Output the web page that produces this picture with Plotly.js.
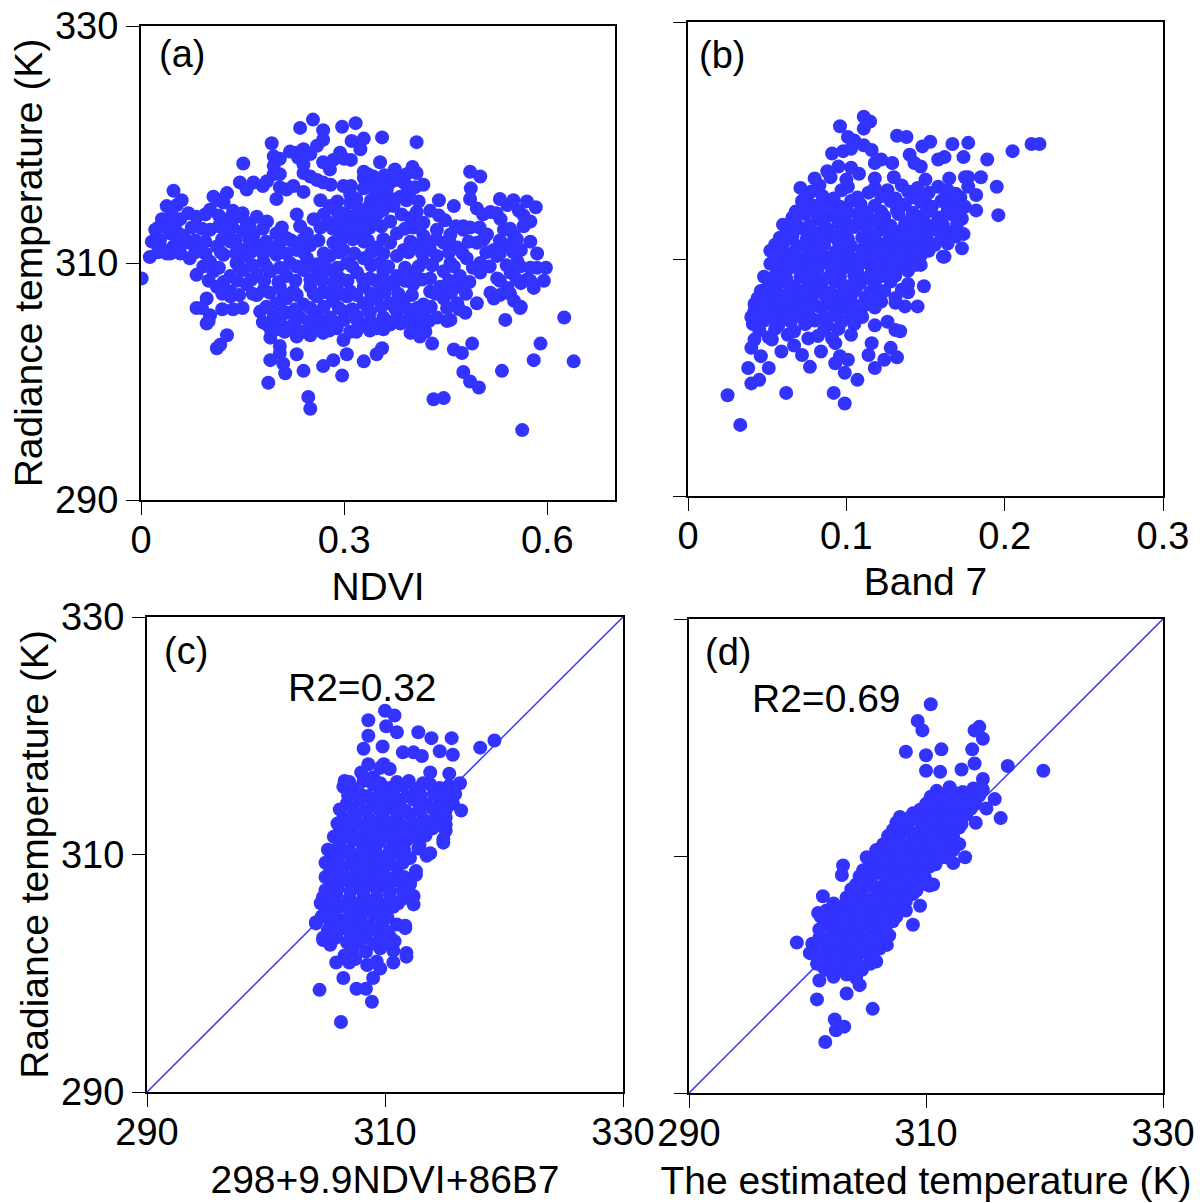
<!DOCTYPE html>
<html>
<head>
<meta charset="utf-8">
<script src="https://cdn.plot.ly/plotly-3.0.1.min.js"></script>
<style>html,body{margin:0;padding:0;background:#fff;}#chart{width:1200px;height:1203px;}</style>
</head>
<body>
<div id="chart"></div>
<script>
// ---------- Panel (a): NDVI vs radiance temperature ----------
const ndviA = [
0.254,0.235,0.269,0.297,0.317,
0.193,0.260,0.269,0.311,0.329,0.356,0.407,
0.196,0.220,0.230,0.240,0.250,0.284,0.294,0.324,
0.151,0.196,0.240,0.269,0.279,0.329,0.353,0.375,0.401,0.486,
0.146,0.166,0.186,0.196,0.250,0.260,0.269,0.329,0.343,0.368,0.378,0.388,0.417,0.501,
0.048,0.107,0.127,0.156,0.200,0.215,0.240,0.265,0.299,0.309,0.329,0.348,0.363,0.383,0.398,0.487,0.486,
0.038,0.053,0.102,0.122,0.136,0.279,0.289,0.309,0.324,0.338,0.358,0.373,0.407,0.427,0.462,0.496,0.516,0.541,0.558,0.583,
0.031,0.058,0.082,0.127,0.141,0.156,0.171,0.186,0.230,0.255,0.279,0.294,0.304,0.329,0.343,0.368,0.398,0.417,0.449,0.476,0.531,0.575,
0.021,0.043,0.063,0.102,0.127,0.151,0.166,0.200,0.215,0.245,0.289,0.304,0.324,0.338,0.378,0.402,0.417,0.437,0.457,0.476,0.486,0.511,0.536,0.551,
0.016,0.033,0.048,0.072,0.087,0.112,0.132,0.151,0.171,0.191,0.205,0.230,0.250,0.284,0.299,0.329,0.348,0.368,0.388,0.407,0.427,0.447,0.467,0.496,0.521,0.541,0.561,
0.013,0.043,0.072,0.102,0.122,0.141,0.156,0.181,0.200,0.220,0.245,0.260,0.279,0.304,0.329,0.353,0.378,0.417,0.437,0.457,0.481,0.501,0.526,0.556,0.575,0.598,
0.001,0.082,0.107,0.132,0.151,0.171,0.191,0.215,0.240,0.260,0.279,0.294,0.319,0.338,0.358,0.378,0.402,0.427,0.447,0.471,0.501,0.526,0.546,0.570,0.595,
0.112,0.132,0.156,0.181,0.205,0.225,0.250,0.269,0.289,0.309,0.329,0.353,0.373,0.402,0.427,0.442,0.471,0.516,0.541,0.561,0.580,
0.097,0.132,0.171,0.200,0.215,0.240,0.260,0.284,0.304,0.329,0.348,0.368,0.388,0.417,0.447,0.467,0.496,0.521,0.551,0.561,
0.082,0.102,0.136,0.176,0.196,0.215,0.235,0.260,0.279,0.299,0.319,0.338,0.358,0.378,0.398,0.417,0.437,0.457,0.479,0.538,0.625,
0.097,0.186,0.200,0.220,0.240,0.255,0.269,0.289,0.309,0.329,0.348,0.368,0.383,0.402,0.417,0.452,
0.127,0.191,0.205,0.230,0.250,0.299,0.398,0.412,0.430,0.590,
0.112,0.117,0.205,0.230,0.304,0.348,0.356,0.462,0.474,0.489,0.580,
0.191,0.210,0.240,0.269,0.284,0.329,0.476,0.533,0.639,
0.188,0.213,0.297,0.486,0.499,0.247,0.432,0.447,0.250,0.563,
0.033,0.045,0.055,0.026,0.058,0.038
];
const tempA = [
322.1,321.4,321.2,321.5,321.8,
320.1,319.9,320.4,320.3,320.5,320.6,320.2,
319.0,319.4,319.3,319.6,319.2,318.7,319.3,319.6,
318.4,318.2,318.3,318.5,317.9,317.7,318.5,317.9,318.1,317.7,
316.8,316.8,316.9,317.5,317.3,317.0,316.8,317.2,317.3,316.8,317.0,316.8,316.6,317.3,
316.1,315.6,315.9,316.2,315.4,316.2,316.0,315.3,316.5,315.8,316.3,315.9,316.2,315.6,316.1,316.3,315.4,
314.8,314.9,314.5,315.1,314.4,314.8,314.4,315.1,314.5,314.9,314.5,314.8,314.3,314.4,314.8,314.6,314.3,314.9,314.4,314.7,
313.7,313.7,313.9,313.7,313.9,313.4,313.9,313.5,314.1,313.7,313.4,313.9,313.2,313.7,313.9,313.5,313.8,313.4,313.6,313.1,313.7,313.5,
312.8,312.5,312.3,312.8,312.4,312.7,312.3,312.5,312.1,312.5,312.8,312.3,312.5,313.0,312.5,313.0,312.3,312.8,312.4,312.8,313.0,312.4,312.8,312.3,
311.8,311.1,311.4,311.7,311.1,311.4,311.8,311.1,311.5,311.1,311.7,311.1,311.5,311.7,311.1,311.8,311.3,311.7,311.1,311.5,311.1,311.7,311.3,311.7,311.1,311.5,311.1,
310.5,310.8,310.4,310.1,310.7,310.0,310.6,310.1,310.7,310.0,310.4,309.9,310.6,310.0,310.4,310.0,310.6,310.1,310.6,310.0,310.4,310.0,310.6,310.1,309.6,309.6,
308.7,309.0,309.3,308.9,309.4,309.0,309.3,308.9,309.4,309.0,309.4,308.7,309.2,308.7,309.3,308.9,309.2,308.7,309.3,308.9,309.2,308.7,309.2,308.6,308.5,
308.0,307.6,308.2,307.7,308.0,307.6,308.0,307.6,308.0,307.6,308.0,307.6,308.2,308.2,307.6,308.0,308.0,307.5,307.9,308.3,307.9,
307.0,307.2,307.3,306.6,307.0,306.5,307.2,306.8,307.2,306.6,307.0,306.6,306.9,306.5,307.0,306.6,306.6,307.0,306.8,306.3,
306.2,305.6,306.1,305.9,305.5,305.8,305.4,305.8,305.4,305.9,305.5,305.8,305.4,305.9,305.5,305.8,305.4,305.2,305.8,305.2,305.4,
304.9,304.8,304.4,304.6,304.2,304.6,304.1,304.5,304.2,304.8,304.5,304.8,304.9,304.6,304.8,305.1,
303.9,303.7,303.0,303.8,303.9,303.5,304.1,303.8,303.2,303.2,
302.8,303.1,302.4,302.3,302.3,302.3,302.8,302.7,302.4,303.2,301.8,
301.8,301.5,300.9,301.3,301.8,301.7,300.8,300.9,301.7,
299.9,300.7,300.5,300.0,299.5,298.7,298.5,298.6,297.7,295.9,
313.1,313.7,312.5,312.0,311.4,310.8
];
// denser core of panel (a), read between the rows above
const ndviAcore = [
0.205,0.232,0.300,0.310,
0.205,0.240,0.335,0.360,0.392,0.407,
0.180,0.205,0.225,0.280,0.310,0.340,0.355,0.393,0.405,
0.060,0.115,0.290,0.318,0.340,0.355,0.370,0.392,0.410,0.440,0.530,0.550,0.570,
0.045,0.070,0.095,0.115,0.150,0.270,0.300,0.315,0.333,0.350,0.385,0.440,0.505,0.525,0.565,
0.026,0.050,0.075,0.090,0.115,0.135,0.160,0.180,0.208,0.235,0.265,0.283,0.315,0.330,0.355,0.390,0.410,0.465,0.500,0.545,0.565,
0.028,0.055,0.080,0.095,0.120,0.140,0.160,0.185,0.222,0.240,0.262,0.294,0.313,0.335,0.358,0.398,0.418,0.436,0.455,0.484,0.506,0.530,0.555,0.575,
0.025,0.058,0.080,0.095,0.118,0.140,0.162,0.180,0.198,0.215,0.240,0.270,0.292,0.315,0.340,0.358,0.395,0.415,0.455,0.475,0.510,0.530,0.550,0.585,
0.092,0.115,0.145,0.165,0.185,0.205,0.230,0.252,0.270,0.290,0.312,0.340,0.365,0.390,0.410,0.430,0.462,0.490,0.515,0.540,0.560,0.585,
0.100,0.122,0.142,0.163,0.182,0.203,0.228,0.250,0.268,0.285,0.305,0.328,0.347,0.365,0.390,0.415,0.455,0.485,0.530,0.555,0.575,
0.120,0.145,0.165,0.190,0.210,0.230,0.255,0.275,0.295,0.318,0.340,0.360,0.380,0.400,0.435,0.458,0.480,0.530,0.545,
0.090,0.120,0.150,0.185,0.205,0.228,0.250,0.270,0.292,0.312,0.335,0.355,0.375,0.395,0.408,0.428,0.452,0.470,0.560,
0.100,0.180,0.205,0.228,0.248,0.265,0.283,0.300,0.320,0.340,0.360,0.376,0.392,0.410,0.425,
0.192,0.212,0.232,0.262,0.278,0.318,0.338,0.358,0.405,0.420
];
const tempAcore = [
318.8,318.9,318.8,318.7,
317.5,317.6,317.5,317.4,317.5,317.6,
316.5,316.4,316.5,316.6,316.5,316.4,316.6,316.5,316.4,
315.3,315.3,315.2,315.4,315.3,315.2,315.4,315.3,315.2,315.3,315.4,315.3,315.2,
314.1,314.2,314.1,314.0,314.2,314.1,314.2,314.0,314.1,314.2,314.1,314.0,314.1,314.2,314.0,
313.0,313.1,313.0,312.9,313.1,313.0,313.1,312.9,313.0,313.1,313.0,312.9,313.1,313.0,313.1,312.9,313.0,313.1,313.0,312.9,313.1,
311.9,312.0,311.9,311.8,312.0,311.9,312.0,311.8,311.9,312.0,311.9,311.8,312.0,311.9,312.0,311.8,311.9,312.0,311.9,311.8,312.0,311.9,312.0,311.8,
310.9,310.8,310.9,310.8,310.9,310.8,310.9,310.8,310.9,310.8,310.9,310.8,310.9,310.8,310.9,310.8,310.9,310.8,310.9,310.8,310.9,310.8,310.9,310.8,
309.7,309.6,309.7,309.8,309.7,309.6,309.7,309.8,309.7,309.6,309.7,309.8,309.7,309.6,309.7,309.8,309.7,309.6,309.7,309.8,309.7,309.6,
308.5,308.4,308.5,308.6,308.5,308.4,308.5,308.6,308.5,308.4,308.5,308.6,308.5,308.4,308.5,308.6,308.5,308.4,308.5,308.6,308.5,
307.4,307.3,307.4,307.5,307.4,307.3,307.4,307.5,307.4,307.3,307.4,307.5,307.4,307.3,307.4,307.5,307.4,307.3,307.4,
306.2,306.1,306.2,306.3,306.2,306.1,306.2,306.3,306.2,306.1,306.2,306.3,306.2,306.1,306.2,306.3,306.2,306.1,306.2,
305.1,305.0,305.1,305.2,305.1,305.0,305.1,305.2,305.1,305.0,305.1,305.2,305.1,305.0,305.1,
304.3,304.2,304.3,304.4,304.3,304.2,304.3,304.4,304.3,304.2
];

// ---------- Panel (b): Band 7 vs radiance temperature ----------
const band7B = [
0.111,0.115,0.111,0.096,0.101,0.105,0.111,0.116,0.091,0.098,0.103,0.088,0.095,0.103,0.108,0.118,0.122,0.129,
0.132,0.138,0.148,0.153,0.167,0.177,0.205,0.217,0.222,0.140,0.143,0.147,0.158,0.162,0.174,0.189,0.177,0.185,
0.195,0.177,0.182,0.182,0.196,0.173,0.162,0.147,0.149,0.139,0.145,0.137,0.131,0.122,0.126,0.134,0.131,0.118,
0.116,0.128,0.132,0.124,0.118,0.114,0.107,0.099,0.093,0.096,0.101,0.093,0.084,0.077,0.072,0.067,0.059,0.053,
0.042,0.040,0.051,0.046,0.038,0.040,0.045,0.025,0.033,0.062,0.092,0.099,
0.071,0.078,0.083,0.097,0.101,0.114,0.118,0.126,0.135,0.139,0.145,0.152,0.158,0.164,0.169,
0.072,0.080,0.088,0.096,0.103,0.109,0.118,0.128,0.137,0.147,0.154,0.160,0.168,0.175,
0.066,0.074,0.082,0.091,0.099,0.107,0.116,0.124,0.133,0.141,0.149,0.158,0.166,0.173,
0.063,0.072,0.080,0.088,0.097,0.105,0.114,0.122,0.131,0.139,0.147,0.156,0.164,0.174,
0.055,0.061,0.069,0.078,0.086,0.095,0.103,0.114,0.122,0.131,0.139,0.147,0.156,0.164,
0.055,0.063,0.072,0.080,0.088,0.097,0.105,0.114,0.122,0.131,0.139,0.147,0.161,
0.057,0.065,0.074,0.082,0.091,0.099,0.107,0.116,0.124,0.133,0.139,
0.051,0.059,0.067,0.076,0.084,0.093,0.101,0.109,0.118,0.128,0.139,
0.044,0.053,0.061,0.069,0.078,0.086,0.095,0.103,0.112,0.120,0.131,
0.042,0.051,0.059,0.067,0.076,0.084,0.093,0.101,0.109,0.118,
0.041,0.048,0.057,0.065,0.074,0.080,0.088,0.097,0.105,
0.051,0.063,0.076,0.082,0.091,0.103
];
const tempB = [
322.0,321.6,321.0,321.2,320.3,320.0,319.6,319.2,318.9,319.1,319.3,317.4,317.8,317.7,317.2,318.1,318.4,318.1,
320.4,320.3,319.5,319.9,319.7,319.8,319.1,319.7,319.7,318.8,318.1,317.8,318.4,318.6,318.6,318.4,316.9,316.9,
316.1,316.1,315.4,314.1,313.7,310.9,310.2,309.5,307.7,307.2,306.0,306.0,306.3,306.4,304.7,303.9,304.0,304.4,
302.9,302.5,301.7,301.5,300.8,301.9,299.8,300.4,301.2,301.8,301.5,302.9,302.2,300.9,301.9,302.7,302.2,303.2,
303.2,302.5,300.8,301.8,300.8,299.5,299.8,298.5,296.0,298.7,298.7,297.8,
316.0,315.7,316.2,315.8,316.1,315.6,316.0,315.8,316.2,315.7,316.0,315.6,316.1,315.8,315.5,
314.9,314.5,314.8,314.4,314.9,314.6,314.5,314.9,314.6,314.8,314.4,314.9,314.6,314.4,
313.5,313.8,313.4,313.7,313.5,313.8,313.3,313.6,313.8,313.4,313.7,313.5,313.8,313.4,
312.3,312.6,312.2,312.5,312.3,312.7,312.2,312.5,312.3,312.6,312.2,312.5,312.3,312.1,
311.2,311.5,311.1,311.4,311.2,311.5,311.1,311.4,311.2,311.5,311.1,311.4,311.2,311.3,
310.1,310.4,310.0,310.3,310.1,310.4,310.0,310.3,310.1,310.4,310.0,310.3,310.2,
309.0,309.3,308.9,309.2,309.0,309.3,308.9,309.2,309.0,309.3,309.0,
307.8,308.1,307.7,308.0,307.8,308.1,307.7,308.0,307.8,308.1,307.9,
306.7,307.0,306.6,306.9,306.7,307.0,306.6,306.9,306.7,307.0,306.7,
305.6,305.9,305.5,305.8,305.6,305.9,305.5,305.8,305.6,305.9,
304.5,304.8,304.4,304.7,304.5,304.8,304.4,304.7,304.5,
303.4,303.6,303.3,303.5,303.3,303.6
];
const band7Bcore = [
0.080,0.090,0.100,0.118,0.130,0.150,0.165,0.175,
0.075,0.085,0.092,0.107,0.122,0.131,0.142,0.150,0.162,0.172,
0.068,0.076,0.084,0.092,0.100,0.113,0.122,0.132,0.142,0.151,0.164,0.171,
0.060,0.068,0.077,0.086,0.095,0.103,0.111,0.120,0.128,0.137,0.145,0.152,0.161,0.170,
0.058,0.066,0.075,0.084,0.092,0.101,0.110,0.118,0.127,0.135,0.143,0.151,0.160,0.169,
0.052,0.059,0.067,0.076,0.084,0.093,0.101,0.110,0.118,0.126,0.135,0.143,0.152,
0.052,0.060,0.068,0.077,0.086,0.094,0.102,0.110,0.119,0.128,0.136,0.144,
0.048,0.055,0.062,0.071,0.080,0.088,0.096,0.105,0.113,0.121,0.131,
0.046,0.056,0.064,0.073,0.081,0.090,0.098,0.106,0.115,0.124,0.135,
0.042,0.048,0.056,0.064,0.072,0.080,0.089,0.097,0.105,0.114,
0.040,0.046,0.054,0.062,0.070,0.078,0.086,0.094,0.102,0.110,
0.045,0.055,0.067,0.086,0.095
];
const tempBcore = [
316.8,316.9,316.7,316.8,316.9,316.7,316.8,316.9,
315.2,315.3,315.1,315.2,315.3,315.1,315.2,315.3,315.1,315.2,
314.0,314.1,313.9,314.0,314.1,313.9,314.0,314.1,313.9,314.0,314.1,313.9,
312.9,313.0,312.8,312.9,313.0,312.8,312.9,313.0,312.8,312.9,313.0,312.8,312.9,313.0,
311.8,311.9,311.7,311.8,311.9,311.7,311.8,311.9,311.7,311.8,311.9,311.7,311.8,311.9,
310.7,310.8,310.6,310.7,310.8,310.6,310.7,310.8,310.6,310.7,310.8,310.6,310.7,
309.6,309.7,309.5,309.6,309.7,309.5,309.6,309.7,309.5,309.6,309.7,309.5,
308.5,308.6,308.4,308.5,308.6,308.4,308.5,308.6,308.4,308.5,308.6,
307.3,307.4,307.2,307.3,307.4,307.2,307.3,307.4,307.2,307.3,307.4,
306.2,306.3,306.1,306.2,306.3,306.1,306.2,306.3,306.1,306.2,
305.1,305.2,305.0,305.1,305.2,305.0,305.1,305.2,305.0,305.1,
304.0,304.1,303.9,304.0,304.1
];

// ---------- Panel (c): 298+9.9NDVI+86B7 vs radiance temperature ----------
const regC = [
310.0,310.8,308.6,311.0,308.6,310.1,308.2,309.8,312.8,313.9,315.6,314.6,315.7,318.0,319.2,308.6,309.6,311.5,
312.4,313.1,306.6,307.3,309.0,310.4,313.8,315.4,316.3,315.9,316.4,314.9,315.1,314.9,313.8,312.6,312.1,312.4,
311.7,311.8,310.7,310.1,309.6,309.0,307.0,305.9,306.5,307.6,308.4,308.9,304.5,306.3,304.8,305.9,304.2,304.8,305.6,
306.5,307.3,309.0,310.4,311.5,312.6,313.8,314.6,315.4,
306.8,307.9,309.0,310.1,311.2,312.4,313.5,314.6,315.7,
306.5,307.6,308.7,309.8,311.0,312.1,313.2,314.3,315.1,
306.2,307.3,308.4,309.6,310.7,311.8,312.9,314.0,315.1,
306.2,307.3,308.4,309.6,310.7,311.8,312.9,314.9,
305.5,306.5,307.6,308.7,309.8,311.0,312.1,313.5,
305.4,306.5,307.6,308.7,309.8,311.0,312.6,
305.4,306.5,307.6,308.7,309.8,311.0,312.1,
304.8,305.9,307.0,308.2,309.3,310.4,311.5,312.4,
305.1,306.2,307.3,308.4,309.6,310.7,
304.2,305.4,306.5,307.6,308.7,309.8,311.0,311.7,
304.8,305.9,307.3,308.4,309.6,310.4,
307.3,308.4,309.6,310.7,311.8
];
const tempC = [
322.1,321.7,321.3,320.3,320.0,320.8,318.9,319.1,320.3,319.8,319.8,318.7,318.4,319.0,319.6,317.6,317.3,318.6,
318.6,318.3,316.2,315.6,316.5,317.2,316.9,316.8,316.0,315.1,313.7,313.8,312.5,311.3,310.1,308.3,307.6,305.8,
303.8,301.4,300.9,302.5,300.4,299.6,300.9,300.9,299.6,298.7,298.7,297.6,298.6,295.9,302.8,303.0,304.2,306.2,310.1,
315.7,315.5,315.9,315.6,315.8,315.5,315.9,315.6,315.8,
314.3,314.6,314.2,314.5,314.3,314.6,314.2,314.5,314.3,
313.1,313.4,313.0,313.3,313.1,313.4,313.0,313.3,313.1,
312.0,312.3,311.9,312.2,312.0,312.3,311.9,312.2,312.0,
310.9,311.2,310.8,311.1,310.9,311.2,310.8,311.0,
309.8,310.1,309.7,310.0,309.8,310.1,309.7,309.9,
308.6,308.9,308.5,308.8,308.6,308.9,308.6,
307.5,307.8,307.4,307.7,307.5,307.8,307.5,
306.4,306.7,306.3,306.6,306.4,306.7,306.3,306.5,
305.3,305.6,305.2,305.5,305.3,305.6,
304.3,304.1,304.4,304.2,304.0,304.3,304.1,304.0,
303.0,303.3,302.9,303.2,303.0,303.1,
302.0,301.8,302.1,301.9,301.7
];
const regCcore = [
307.0,308.2,309.6,311.0,312.0,313.2,
306.9,307.9,308.5,309.5,310.7,311.8,313.0,314.1,315.0,
306.2,307.3,308.4,309.5,310.6,311.7,312.9,314.0,315.1,
306.0,307.0,308.1,309.2,310.3,311.4,312.5,313.6,314.6,
305.7,306.8,307.9,309.0,310.1,311.2,312.3,313.4,
305.2,306.0,307.0,308.1,309.2,310.4,311.6,312.8,
305.0,306.0,307.1,308.2,309.3,310.4,311.5,
305.0,306.0,307.1,308.2,309.3,310.4,311.6,
305.0,306.0,307.1,308.2,309.3,310.4,311.5,
304.6,305.6,306.7,307.8,308.9,310.1,311.1,
304.7,305.8,306.9,308.0,309.1,310.2,
305.2,306.2,307.0,308.0,309.1,310.2,
306.8,307.9,309.0,310.0,
306.6,307.5,308.5,309.3,305.4,310.8,308.0,309.9
];
const tempCcore = [
316.1,316.2,316.0,316.1,316.2,316.0,
315.0,315.1,314.9,315.0,315.1,314.9,315.0,315.1,314.9,
313.8,313.9,313.7,313.8,313.9,313.7,313.8,313.9,313.7,
312.6,312.7,312.5,312.6,312.7,312.5,312.6,312.7,312.5,
311.5,311.6,311.4,311.5,311.6,311.4,311.5,311.6,
310.4,310.5,310.3,310.4,310.5,310.3,310.4,310.5,
309.3,309.4,309.2,309.3,309.4,309.2,309.3,
308.1,308.2,308.0,308.1,308.2,308.0,308.1,
307.0,307.1,306.9,307.0,307.1,306.9,307.0,
305.9,306.0,305.8,305.9,306.0,305.8,305.9,
304.8,304.9,304.7,304.8,304.9,304.7,
303.6,303.7,303.5,303.6,303.7,303.5,
302.6,302.7,302.5,302.6,
301.5,301.2,300.7,301.0,302.4,302.7,316.9,317.6
];

// ---------- Panel (d): estimated temperature vs radiance temperature ----------
const estD = [
310.4,309.3,309.7,308.3,310.0,311.3,313.9,314.1,314.5,314.1,314.8,313.0,316.9,319.9,310.0,311.2,314.8,315.8,
315.1,316.3,314.2,313.3,312.3,310.3,309.5,308.9,303.0,302.9,301.3,300.9,299.1,305.8,304.4,303.3,301.0,300.8,
305.5,302.3,303.1,302.4,301.5,306.7,300.2,
310.9,312.0,313.1,314.0,314.8,
310.0,311.2,312.3,313.4,314.2,
307.8,308.9,310.0,311.2,312.3,313.4,
307.2,308.3,309.5,310.6,311.7,312.8,
306.4,307.5,308.6,309.7,310.9,312.0,312.8,
305.0,306.1,307.2,308.3,309.5,310.6,311.7,
304.7,305.8,306.9,308.1,309.2,310.3,
304.1,305.3,306.4,307.5,308.6,309.7,310.6,
303.3,304.4,305.5,306.7,307.8,308.9,
301.6,302.7,303.8,305.0,306.1,307.2,308.3,
301.6,302.7,303.8,305.0,306.1,307.2,
301.0,302.2,303.3,304.4,305.5,306.9,
300.5,301.6,302.7,303.8,305.0,306.1,
300.8,301.9,303.0,304.1,305.3,
302.2,303.3,304.1
];
const tempD = [
322.8,321.4,320.6,318.8,318.5,319.0,319.0,317.8,320.9,320.6,319.9,317.3,317.6,317.2,317.2,317.1,316.5,314.8,
314.0,313.2,312.8,309.9,309.4,307.5,305.8,304.2,309.2,308.4,306.6,305.2,302.7,301.1,299.1,298.4,299.5,297.9,
297.1,296.2,295.6,295.3,294.3,302.5,301.8,
315.5,315.8,315.4,315.7,315.6,
314.4,314.7,314.3,314.6,314.4,
313.3,313.6,313.2,313.5,313.3,313.5,
312.2,312.5,312.1,312.4,312.2,312.4,
311.0,311.3,310.9,311.2,311.0,311.3,311.0,
309.9,310.2,309.8,310.1,309.9,310.2,309.9,
308.8,309.1,308.7,309.0,308.8,309.1,
307.6,307.9,307.5,307.8,307.6,307.9,307.6,
306.5,306.8,306.4,306.7,306.5,306.8,
305.4,305.7,305.3,305.6,305.4,305.7,305.4,
304.3,304.6,304.2,304.5,304.3,304.5,
303.1,303.4,303.0,303.3,303.1,303.3,
302.0,302.3,301.9,302.2,302.0,302.2,
300.9,301.2,300.8,301.1,300.9,
299.8,300.0,299.7
];
const estDcore = [
310.4,311.5,312.6,313.6,314.5,
309.5,310.6,311.7,312.8,313.8,
307.5,308.6,309.7,310.8,311.9,313.0,
306.8,307.9,309.0,310.1,311.2,312.3,
305.8,306.9,308.0,309.1,310.2,311.3,312.3,
305.3,306.4,307.5,308.6,309.7,310.8,
304.4,305.5,306.6,307.7,308.8,309.9,
303.7,304.8,305.9,307.0,308.1,309.2,
302.2,303.3,304.4,305.5,306.6,307.7,
301.1,302.2,303.3,304.4,305.5,306.6,307.5,
301.0,302.1,303.2,304.3,305.4,306.4,
300.4,301.5,302.6,303.7,304.8,305.8,
300.8,301.9,303.0,304.1,305.2,
301.5,302.7,303.8,304.6
];
const tempDcore = [
315.0,315.1,314.9,315.0,315.1,
313.9,314.0,313.8,313.9,314.0,
312.8,312.9,312.7,312.8,312.9,312.7,
311.7,311.8,311.6,311.7,311.8,311.6,
310.5,310.6,310.4,310.5,310.6,310.4,310.5,
309.4,309.5,309.3,309.4,309.5,309.3,
308.3,308.4,308.2,308.3,308.4,308.2,
307.2,307.3,307.1,307.2,307.3,307.1,
306.0,306.1,305.9,306.0,306.1,305.9,
304.9,305.0,304.8,304.9,305.0,304.8,304.9,
303.8,303.9,303.7,303.8,303.9,303.7,
302.6,302.7,302.5,302.6,302.7,302.5,
301.5,301.6,301.4,301.5,301.6,
300.4,300.5,300.3,300.4
];
// further fill of the solid band in panel (d)
const estDfill = [
311.4,312.5,313.5,
310.5,311.7,312.8,313.8,
308.3,309.4,310.6,311.7,312.8,
307.7,308.8,310.0,311.1,312.2,
306.9,308.0,309.1,310.3,311.4,
305.5,306.6,307.7,308.8,310.0,311.1,
305.2,306.3,307.4,308.5,309.6,
304.6,305.7,306.8,307.9,309.0,310.1,
303.8,304.9,306.0,307.2,308.3,
302.1,303.2,304.3,305.5,306.6,307.6,
302.1,303.2,304.3,305.4,306.6,
301.6,302.7,303.8,304.9,306.0,
301.1,302.2,303.3,304.4,305.5,
301.3,302.4,303.5,304.6
];
const tempDfill = [
315.2,315.3,315.1,
314.3,314.2,314.4,314.3,
313.1,313.0,313.2,313.1,313.0,
312.0,311.9,312.1,312.0,311.9,
310.9,310.8,311.0,310.9,310.8,
309.7,309.6,309.8,309.7,309.6,309.8,
308.6,308.5,308.7,308.6,308.5,
307.5,307.4,307.6,307.5,307.4,307.6,
306.3,306.2,306.4,306.3,306.2,
305.2,305.1,305.3,305.2,305.1,305.3,
304.1,304.0,304.2,304.1,304.0,
303.0,302.9,303.1,303.0,302.9,
301.8,301.7,301.9,301.8,301.7,
300.7,300.6,300.8,300.7
];

// 1:1 reference line and tick labels
const oneToOne = [290, 330];
const tempTicks = [290, 310, 330];
const ndviTicks = [0, 0.3, 0.6];
const band7Ticks = [0, 0.1, 0.2, 0.3];
const panelLabels = ['(a)', '(b)', '(c)', '(d)'];
const r2Labels = ['R2=0.32', 'R2=0.69'];

const FONT = 'Liberation Sans, Arial, Helvetica, sans-serif';
const BLUE = '#3333ff';
const mk = {color: BLUE, size: 14, line: {width: 0}};

const traces = [
  {x: ndviA.concat(ndviAcore), y: tempA.concat(tempAcore), xaxis: 'x', yaxis: 'y', type: 'scatter', mode: 'markers', marker: mk},
  {x: band7B.concat(band7Bcore), y: tempB.concat(tempBcore), xaxis: 'x2', yaxis: 'y2', type: 'scatter', mode: 'markers', marker: mk},
  {x: oneToOne, y: oneToOne, xaxis: 'x3', yaxis: 'y3', type: 'scatter', mode: 'lines', line: {color: BLUE, width: 1.5}},
  {x: regC.concat(regCcore), y: tempC.concat(tempCcore), xaxis: 'x3', yaxis: 'y3', type: 'scatter', mode: 'markers', marker: mk},
  {x: oneToOne, y: oneToOne, xaxis: 'x4', yaxis: 'y4', type: 'scatter', mode: 'lines', line: {color: BLUE, width: 1.5}},
  {x: estD.concat(estDcore, estDfill), y: tempD.concat(tempDcore, tempDfill), xaxis: 'x4', yaxis: 'y4', type: 'scatter', mode: 'markers', marker: mk}
];

function ax(extra) {
  return Object.assign({
    showline: true, mirror: true, linecolor: '#000', linewidth: 2,
    ticks: 'outside', ticklen: 13, tickwidth: 1, tickcolor: '#000',
    showgrid: false, zeroline: false, fixedrange: true,
    tickfont: {family: FONT, size: 38, color: '#000'},
    automargin: false
  }, extra);
}
const W = 1200, H = 1203;
const dx = (a, b) => [a / W, b / W];
const dy = (top, bottom) => [1 - bottom / H, 1 - top / H];
const titleFont = {family: FONT, size: 39, color: '#000'};

const layout = {
  width: W, height: H,
  margin: {l: 0, r: 0, t: 0, b: 0},
  paper_bgcolor: '#fff', plot_bgcolor: '#fff',
  showlegend: false, hovermode: false,
  font: {family: FONT, color: '#000'},
  xaxis: ax({domain: dx(141, 615), anchor: 'y', range: [0, 0.7], tickvals: ndviTicks, ticktext: ['0', '0.3', '0.6'],
    ticklabelstandoff: -8, title: {text: 'NDVI', font: titleFont, standoff: 13}}),
  yaxis: ax({domain: dy(26, 500), anchor: 'x', range: [290, 330], tickvals: tempTicks,
    title: {text: 'Radiance temperature (K)', font: titleFont, standoff: 0}}),
  xaxis2: ax({domain: dx(688, 1163), anchor: 'y2', range: [0, 0.3], tickvals: band7Ticks, ticktext: ['0', '0.1', '0.2', '0.3'],
    ticklabelstandoff: -8, title: {text: 'Band 7', font: titleFont, standoff: 12}}),
  yaxis2: ax({domain: dy(22, 496), anchor: 'x2', range: [290, 330], tickvals: tempTicks, showticklabels: false}),
  xaxis3: ax({domain: dx(147, 623), anchor: 'y3', range: [290, 330], tickvals: tempTicks,
    ticklabelstandoff: -8, title: {text: '298+9.9NDVI+86B7', font: titleFont, standoff: 14}}),
  yaxis3: ax({domain: dy(617, 1092), anchor: 'x3', range: [290, 330], tickvals: tempTicks,
    title: {text: 'Radiance temperature (K)', font: titleFont, standoff: 0}}),
  xaxis4: ax({domain: dx(689, 1163), anchor: 'y4', range: [290, 330], tickvals: tempTicks,
    ticklabelstandoff: -8, title: {text: 'The estimated temperature (K)', font: titleFont, standoff: 14}}),
  yaxis4: ax({domain: dy(619, 1093), anchor: 'x4', range: [290, 330], tickvals: tempTicks, showticklabels: false}),
  annotations: [
    {xref: 'x', yref: 'y', x: 0.061, y: 327.6, text: panelLabels[0], showarrow: false, font: {family: FONT, size: 38, color: '#000'}},
    {xref: 'x2', yref: 'y2', x: 0.0216, y: 327.2, text: panelLabels[1], showarrow: false, font: {family: FONT, size: 38, color: '#000'}},
    {xref: 'x3', yref: 'y3', x: 293.3, y: 327.1, text: panelLabels[2], showarrow: false, font: {family: FONT, size: 38, color: '#000'}},
    {xref: 'x4', yref: 'y4', x: 293.3, y: 327.2, text: panelLabels[3], showarrow: false, font: {family: FONT, size: 38, color: '#000'}},
    {xref: 'x3', yref: 'y3', x: 308.1, y: 324.1, text: r2Labels[0], showarrow: false, font: {family: FONT, size: 39, color: '#000'}},
    {xref: 'x4', yref: 'y4', x: 301.6, y: 323.3, text: r2Labels[1], showarrow: false, font: {family: FONT, size: 39, color: '#000'}}
  ]
};

Plotly.newPlot('chart', traces, layout, {staticPlot: true, displayModeBar: false});
</script>
</body>
</html>
